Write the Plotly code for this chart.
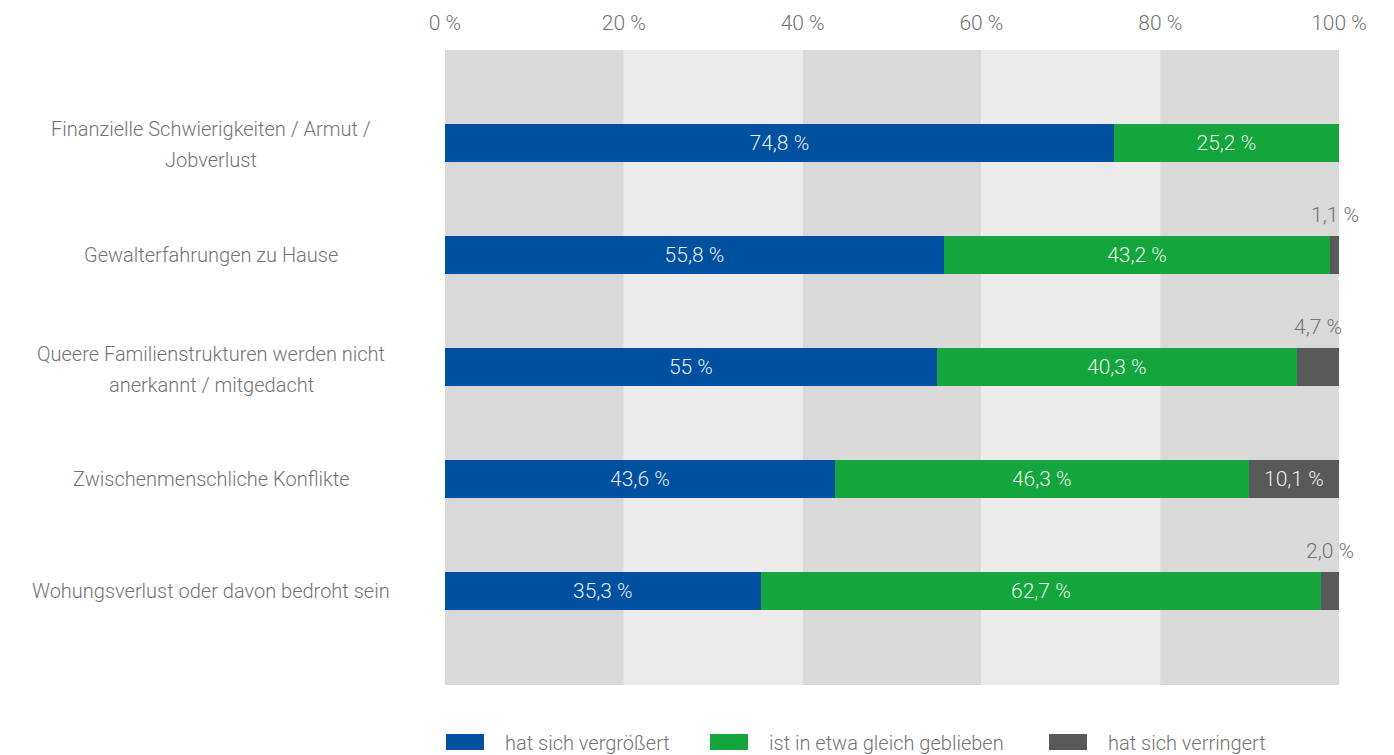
import plotly.graph_objects as go

categories = [
    "Finanzielle Schwierigkeiten / Armut /<br>Jobverlust",
    "Gewalterfahrungen zu Hause",
    "Queere Familienstrukturen werden nicht<br>anerkannt / mitgedacht",
    "Zwischenmenschliche Konflikte",
    "Wohungsverlust oder davon bedroht sein",
]
series_names = ["hat sich vergrößert", "ist in etwa gleich geblieben", "hat sich verringert"]
vergroessert = [74.8, 55.8, 55.0, 43.6, 35.3]
gleich = [25.2, 43.2, 40.3, 46.3, 62.7]
verringert = [0.0, 1.1, 4.7, 10.1, 2.0]
labels_vergroessert = ["74,8 %", "55,8 %", "55 %", "43,6 %", "35,3 %"]
labels_gleich = ["25,2 %", "43,2 %", "40,3 %", "46,3 %", "62,7 %"]
labels_verringert = ["", "1,1 %", "4,7 %", "10,1 %", "2,0 %"]
inside_verringert = [False, False, False, True, False]
tick_vals = [0, 20, 40, 60, 80, 100]
tick_text = ["0 %", "20 %", "40 %", "60 %", "80 %", "100 %"]

colors = ["#0050a0", "#14a53c", "#595959"]
FONT = "Roboto"
FS_TXT = 20
FS_NUM = 21
WT = 300
GRAY = "#737373"
LBL = "rgba(255,255,255,0.92)"

def f(color=GRAY, size=FS_TXT):
    return dict(color=color, size=size, family=FONT, weight=WT)

idx = list(range(len(categories)))
fig = go.Figure()

for vals, labs, col, name in [
    (vergroessert, labels_vergroessert, colors[0], series_names[0]),
    (gleich, labels_gleich, colors[1], series_names[1]),
    (verringert, [t if ins else "" for t, ins in zip(labels_verringert, inside_verringert)], colors[2], series_names[2]),
]:
    fig.add_trace(go.Bar(y=idx, x=vals, orientation="h", marker_color=col, marker_line_width=0,
                         text=labs, textposition="inside", insidetextanchor="middle",
                         textfont=f(LBL, FS_NUM), width=0.34, name=name, showlegend=False,
                         constraintext="none"))

annotations = []
for i, (v, a, b, t, ins) in enumerate(zip(verringert, vergroessert, gleich, labels_verringert, inside_verringert)):
    if t and not ins:
        annotations.append(dict(x=a + b + v / 2, y=i, xref="x", yref="y", text=t, showarrow=False,
                                yshift=40, font=f(GRAY, FS_NUM), xanchor="center", yanchor="middle"))

W, H = 1394, 755
plot_l, plot_r = 445, 1339
plot_t, plot_b = 50, 685
pw = plot_r - plot_l
ph = plot_b - plot_t

# category labels, centered in the left margin (one annotation per line for wider line spacing)
LINE_H = 31
for i, c in enumerate(categories):
    lines = c.split("<br>")
    n = len(lines)
    for k, line in enumerate(lines):
        shift = -(k - (n - 1) / 2) * LINE_H - (2 if n > 1 else 0)
        annotations.append(dict(x=(211 - plot_l) / pw, y=i, xref="paper", yref="y", text=line,
                                showarrow=False, xanchor="center", yanchor="middle", align="center",
                                yshift=shift, font=f()))

# background bands
shapes = []
for k in range(5):
    shapes.append(dict(type="rect", xref="x", yref="paper", x0=k * 20, x1=(k + 1) * 20, y0=0, y1=1,
                       fillcolor="#d9d9d9" if k % 2 == 0 else "#ebebeb", line_width=0, layer="below"))

# manual legend
legend_x = [446, 710, 1049]
for name, col, lx in zip(series_names, colors, legend_x):
    shapes.append(dict(type="rect", xref="paper", yref="paper",
                       x0=(lx - plot_l) / pw, x1=(lx + 38 - plot_l) / pw,
                       y0=-(750 - plot_b) / ph, y1=-(734 - plot_b) / ph,
                       fillcolor=col, line_width=0))
    annotations.append(dict(x=(lx + 57 - plot_l) / pw, y=-(743 - plot_b) / ph, xref="paper", yref="paper",
                            text=name, showarrow=False, xanchor="left", yanchor="middle", font=f()))

fig.update_layout(
    barmode="stack",
    width=W, height=H,
    margin=dict(l=plot_l, r=W - plot_r, t=plot_t, b=H - plot_b, pad=0),
    paper_bgcolor="white", plot_bgcolor="white",
    font=f(),
    xaxis=dict(range=[0, 100], side="top", tickvals=tick_vals, ticktext=tick_text,
               showgrid=False, zeroline=False, showline=False, ticks="",
               tickfont=f(GRAY, FS_NUM), ticklabelstandoff=15, fixedrange=True),
    yaxis=dict(range=[4.839, -0.830], showticklabels=False, showgrid=False, zeroline=False,
               showline=False, ticks="", fixedrange=True),
    shapes=shapes,
    annotations=annotations,
    showlegend=False,
)

fig.write_html("out.html", config={"displayModeBar": False},
               post_script="document.body.style.margin='0';document.body.style.overflow='hidden';")
